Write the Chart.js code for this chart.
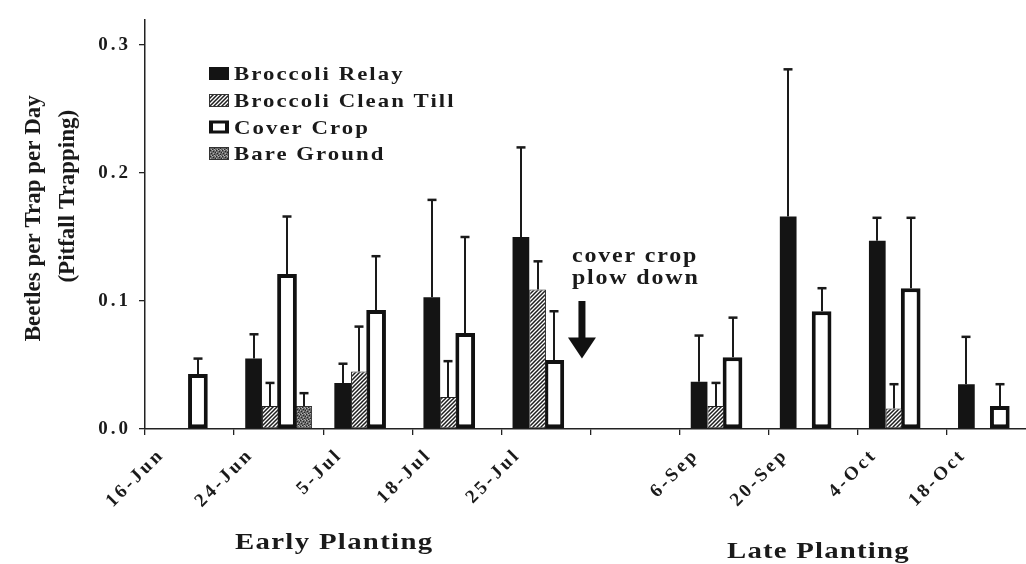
<!DOCTYPE html>
<html><head><meta charset="utf-8">
<script src="https://cdn.jsdelivr.net/npm/chart.js@4/dist/chart.umd.min.js"></script>
<style>html,body{margin:0;padding:0;overflow:hidden;background:#fff;width:1026px;height:564px}canvas{display:block}</style>
</head><body>
<canvas id="c" width="1040" height="564" style="width:1040px;height:564px"></canvas>
<script>
// ---- data ----
const categories = ['16-Jun','24-Jun','5-Jul','18-Jul','25-Jul','','6-Sep','20-Sep','4-Oct','18-Oct'];
const seriesNames = ['Broccoli Relay','Broccoli Clean Till','Cover Crop','Bare Ground'];
const relay   = [0,     0.055, 0.036, 0.103, 0.150, null, 0.037, 0.166, 0.147, 0.035];
const relaySE = [0,     0.019, 0.015, 0.076, 0.070, null, 0.036, 0.115, 0.018, 0.037];
const clean   = [0,     0.018, 0.045, 0.025, 0.109, null, 0.018, null,  0.016, null];
const cleanSE = [0,     0.018, 0.035, 0.028, 0.022, null, 0.018, null,  0.019, null];
const cover   = [0.043, 0.121, 0.093, 0.075, 0.054, null, 0.056, 0.092, 0.110, 0.018];
const coverSE = [0.012, 0.045, 0.042, 0.075, 0.038, null, 0.031, 0.018, 0.055, 0.017];
const bare    = [null,  0.018, null,  null,  null,  null, null,  null,  null,  null];
const bareSE  = [null,  0.010, null,  null,  null,  null, null,  null,  null,  null];
const yTickLabels = ['0.0','0.1','0.2','0.3'];
const yTitleLines = ['Beetles per Trap per Day','(Pitfall Trapping)'];
const groupLabels = ['Early Planting','Late Planting'];
const noteLines = ['cover crop','plow down'];

const SERIF = '"Liberation Serif", "Times New Roman", serif';
const INK = '#1a1a1a';

// ---- fill patterns ----
function makeHatch(){
  const t=document.createElement('canvas'); t.width=4; t.height=4;
  const c=t.getContext('2d');
  c.fillStyle='#fff'; c.fillRect(0,0,4,4);
  c.strokeStyle='#1e1e1e'; c.lineWidth=1.5;
  c.beginPath(); c.moveTo(-1,5); c.lineTo(5,-1); c.moveTo(-1,1); c.lineTo(1,-1); c.moveTo(3,5); c.lineTo(5,3); c.stroke();
  return c.createPattern(t,'repeat');
}
function makeStipple(){
  const t=document.createElement('canvas'); t.width=6; t.height=6;
  const c=t.getContext('2d');
  c.fillStyle='#6a6a6a'; c.fillRect(0,0,6,6);
  const dark=[[0,0],[3,1],[1,3],[4,4],[5,2],[2,5]];
  const light=[[2,0],[5,0],[0,2],[3,3],[1,5],[4,5]];
  c.fillStyle='#262626'; dark.forEach(p=>c.fillRect(p[0],p[1],1,1));
  c.fillStyle='#b0b0b0'; light.forEach(p=>c.fillRect(p[0],p[1],1,1));
  return c.createPattern(t,'repeat');
}
const hatch = makeHatch();
const stipple = makeStipple();

function wideText(ctx, text, x, y, k, sp){
  ctx.save(); ctx.translate(x,y); ctx.scale(k,1); ctx.letterSpacing=sp+'px'; ctx.fillText(text,0,0); ctx.restore();
}

// ---- plugins ----
const spacing = {
  id:'spacing',
  beforeDraw(chart){ chart.ctx.letterSpacing='3px'; }
};

const errorBars = {
  id:'errorBars',
  afterDatasetsDraw(chart){
    const ctx=chart.ctx, y=chart.scales.y;
    ctx.save();
    ctx.strokeStyle=INK;
    chart.data.datasets.forEach((ds,di)=>{
      const meta=chart.getDatasetMeta(di);
      meta.data.forEach((bar,i)=>{
        const v=ds.data[i], e=ds.se[i];
        if(v==null||!e) return;
        const top=y.getPixelForValue(v+e);
        const x=Math.round(bar.x);
        ctx.lineWidth=2;
        ctx.beginPath(); ctx.moveTo(x,bar.y); ctx.lineTo(x,top); ctx.stroke();
        ctx.lineWidth=2.5;
        ctx.beginPath(); ctx.moveTo(x-4.5,top); ctx.lineTo(x+4.5,top); ctx.stroke();
      });
    });
    ctx.restore();
  }
};

const decorations = {
  id:'decorations',
  afterDraw(chart){
    const ctx=chart.ctx, x=chart.scales.x, y=chart.scales.y;
    ctx.save();
    ctx.fillStyle=INK;
    // y-axis title
    ctx.letterSpacing='0px';
    ctx.font='bold 23px '+SERIF;
    ctx.textAlign='center'; ctx.textBaseline='alphabetic';
    const ymid=(chart.chartArea.top+chart.chartArea.bottom)/2;
    [[yTitleLines[0],40,ymid-6],[yTitleLines[1],74,ymid-28]].forEach(([t,bx,cy])=>{
      ctx.save(); ctx.translate(bx,cy); ctx.rotate(-Math.PI/2); ctx.fillText(t,0,0); ctx.restore();
    });
    // legend
    ctx.textAlign='left';
    ctx.font='bold 19px '+SERIF;
    const ds=chart.data.datasets;
    const baselines=[80,107,133.5,160];
    ds.forEach((d,i)=>{
      const b=baselines[i], sx=209, sy=b-13, sw=20, sh=13;
      if(i===2){
        ctx.fillStyle='#111'; ctx.fillRect(sx,sy,sw,sh);
        ctx.fillStyle='#fff'; ctx.fillRect(sx+4,sy+3,sw-8,sh-6);
      } else {
        ctx.fillStyle=d.backgroundColor; ctx.fillRect(sx,sy,sw,sh);
        if(i!==0){ ctx.strokeStyle='#333'; ctx.lineWidth=1; ctx.strokeRect(sx+0.5,sy+0.5,sw-1,sh-1); }
      }
      ctx.fillStyle=INK;
      wideText(ctx,d.label,234,b,1.2,1.7);
    });
    // group labels
    ctx.font='bold 24px '+SERIF;
    wideText(ctx,groupLabels[0],235,549,1.2,1.1);
    wideText(ctx,groupLabels[1],727,558,1.2,1.0);
    // cover crop note + arrow
    const ax = x.getPixelForValue(4) + 36;
    ctx.font='bold 20px '+SERIF;
    wideText(ctx,noteLines[0],ax-10,262,1.2,1.5);
    wideText(ctx,noteLines[1],ax-10,284,1.2,1.5);
    const yTop=y.getPixelForValue(0.1), yMid=y.getPixelForValue(0.0715), yTip=y.getPixelForValue(0.055);
    ctx.fillStyle='#111';
    ctx.fillRect(ax-3.5,yTop,7,yMid-yTop+1);
    ctx.beginPath(); ctx.moveTo(ax-14,yMid); ctx.lineTo(ax+14,yMid); ctx.lineTo(ax,yTip); ctx.closePath(); ctx.fill();
    ctx.restore();
  }
};

// ---- chart ----
const tickFont={family:SERIF,size:19,weight:'bold'};
new Chart(document.getElementById('c'),{
  type:'bar',
  data:{
    labels:categories,
    datasets:[
      {label:seriesNames[0],data:relay,se:relaySE,backgroundColor:'#141414',borderWidth:0,barPercentage:1,categoryPercentage:0.75},
      {label:seriesNames[1],data:clean,se:cleanSE,backgroundColor:hatch,borderColor:'#222',borderWidth:1,borderSkipped:false,barPercentage:1,categoryPercentage:0.75},
      {label:seriesNames[2],data:cover,se:coverSE,backgroundColor:'#ffffff',borderColor:'#111',borderWidth:4,borderSkipped:false,barPercentage:1.18,categoryPercentage:0.75},
      {label:seriesNames[3],data:bare,se:bareSE,backgroundColor:stipple,borderColor:'#333',borderWidth:1,borderSkipped:false,barPercentage:1,categoryPercentage:0.75}
    ]
  },
  options:{
    responsive:false, animation:false, devicePixelRatio:1,
    layout:{padding:{top:14,right:4,left:0,bottom:0}},
    plugins:{legend:{display:false},tooltip:{enabled:false},title:{display:false}},
    scales:{
      x:{
        grid:{drawOnChartArea:false,drawTicks:true,tickLength:6,color:'#222',offset:true,lineWidth:1.3},
        border:{display:true,color:'#222',width:1.5},
        ticks:{color:INK,font:tickFont,minRotation:45,maxRotation:45,autoSkip:false,labelOffset:-28,padding:9},
        afterFit(s){s.height=135;}
      },
      y:{
        min:0,max:0.32,
        grid:{drawOnChartArea:false,drawTicks:true,tickLength:6,color:'#222',lineWidth:1.3},
        border:{display:true,color:'#222',width:1.5},
        ticks:{stepSize:0.1,includeBounds:false,color:INK,font:tickFont,padding:8,callback:(v,i)=>yTickLabels[i]},
        afterFit(s){s.width=145;}
      }
    }
  },
  plugins:[spacing,errorBars,decorations]
});
</script>
</body></html>
